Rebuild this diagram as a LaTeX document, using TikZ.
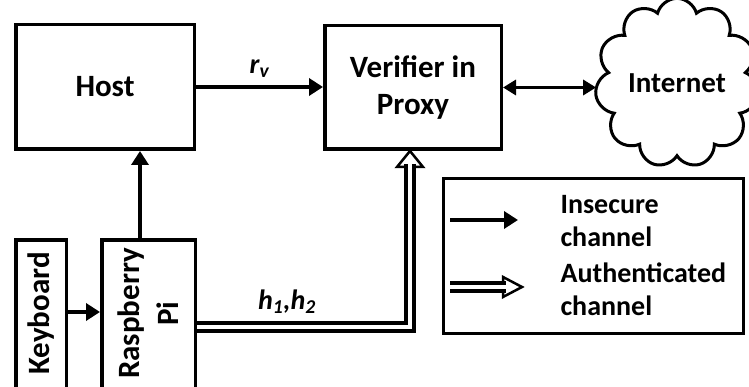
\documentclass[tikz,border=0pt]{standalone}
\usepackage{fontspec}
\setmainfont{Carlito}
\usetikzlibrary{positioning,arrows.meta,shapes.symbols}

\begin{document}
\begin{tikzpicture}[x=1pt,y=1pt,
        font=\fontsize{28}{33}\selectfont\bfseries,
        big/.style={font=\fontsize{31}{37}\selectfont\bfseries},
        box/.style={draw,line width=3.5pt,inner sep=0pt},
        insec/.style={line width=4pt,-{Triangle[length=14pt,width=17pt]}},
        auth/.style={draw,double=white,line width=3.5pt,double distance=4.5pt}]
        \useasboundingbox (0,0) rectangle (749,387);
        \node[box,big,minimum width=178.5pt,minimum height=124.5pt] (host) at (105,300) {Host};
        \node[box,big,minimum width=176.5pt,minimum height=123.5pt,align=center] (verifier) at (413,299.5) {Verifier in\\Proxy};
        \node[cloud,draw,line width=3pt,cloud puffs=11,aspect=0.95,minimum width=152pt,minimum height=160pt,inner sep=0pt,font=\fontsize{29}{35}\selectfont\bfseries] (internet) at (677,304) {Internet};
        \node[box,minimum width=50.5pt,minimum height=155pt] (kbd) at (41,69.5) {};
        \node[big,rotate=90] (kbdtext) at (41,73.5) {Keyboard};
        \node[box,minimum width=93.5pt,minimum height=155pt] (rpi) at (148.5,69.5) {};
        \node[big,rotate=90,align=center] (rpitext) at (148.5,73.5) {Raspberry\\[2pt]Pi};
        \node[box,line width=3pt,minimum width=300pt,minimum height=155pt] (legend) at (593.5,131) {};
        \node[anchor=west,align=left] (instext) at (557,166) {Insecure\\channel};
        \node[anchor=west,align=left] (authtext) at (557,97.5) {Authenticated\\channel};
        \draw[insec] (host.east) -- (host.east -| verifier.west) node[midway,above=4pt] (rv) {\itshape r\textsubscript{v}};
        \draw[insec] ([xshift=-8.5pt]rpi.north) -- ([xshift=-8.5pt]rpi.north |- host.south);
        \draw[insec] ([yshift=5.5pt]kbd.east) -- ([yshift=5.5pt]kbd.east -| rpi.west);
        \draw[line width=3.5pt,{Triangle[length=13pt,width=15pt]}-{Triangle[length=13pt,width=15pt]}] (verifier.east) -- (verifier.east -| internet.west);
        \coordinate (authhead) at (410,220);
        \draw[line width=2.5pt,fill=white,line join=miter] ([xshift=-13pt]authhead) -- ([xshift=13pt]authhead) -- (authhead |- verifier.south) -- cycle;
        \draw[auth] ([yshift=-9.5pt]rpi.east) -| ([yshift=3pt]authhead);
        \node (h) at (287,85) {\itshape h\textsubscript{1},h\textsubscript{2}};
        \coordinate (insA) at (450,167);
        \coordinate (insB) at (518,167);
        \draw[insec] (insA) -- (insB);
        \coordinate (authA) at (450,100);
        \coordinate (authB) at (503,100);
        \draw[line width=2.5pt,fill=white,line join=miter] ([yshift=10pt]authB) -- ([yshift=-10pt]authB) -- ([xshift=19pt]authB) -- cycle;
        \draw[auth] (authA) -- ([xshift=3pt]authB);
\end{tikzpicture}
\end{document}
